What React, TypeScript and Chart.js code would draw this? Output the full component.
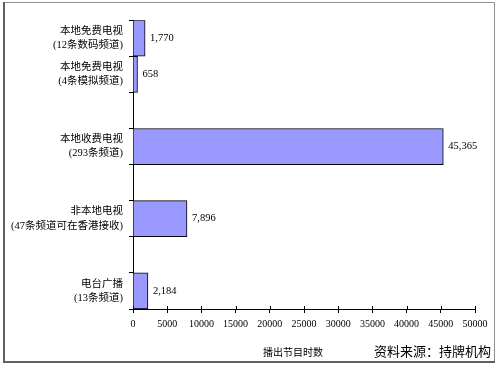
import React, { useEffect, useRef } from "react";
import { Chart, registerables } from "chart.js";

Chart.register(...registerables);

const categories: (string | string[])[] = [
  ["本地免费电视", "(12条数码频道)"],
  ["本地免费电视", "(4条模拟频道)"],
  "",
  ["本地收费电视", "(293条频道)"],
  "",
  ["非本地电视", "(47条频道可在香港接收)"],
  "",
  ["电台广播", "(13条频道)"],
];
const hours: (number | null)[] = [1770, 658, null, 45365, null, 7896, null, 2184];
const xMin = 0;
const xMax = 50000;
const xStep = 5000;
const axisTitle = "播出节目时数";
const sourceNote = "资料来源：持牌机构";

const SERIF = "'Liberation Serif', 'Times New Roman', 'Noto Sans CJK SC'";
const CJK = "'Noto Sans CJK SC', sans-serif";

const decorPlugin = {
  id: "decor",
  beforeDraw(chart: any) {
    const ctx = chart.ctx;
    ctx.save();
    ctx.fillStyle = "#ffffff";
    ctx.fillRect(0, 0, chart.width, chart.height);
    ctx.restore();
  },
  afterDraw(chart: any) {
    const ctx = chart.ctx;
    const xs = chart.scales.x;
    const area = chart.chartArea;
    ctx.save();
    // inner half of x tick marks
    ctx.strokeStyle = "#000";
    ctx.lineWidth = 1;
    xs.ticks.forEach((t: any) => {
      const px = Math.round(xs.getPixelForValue(t.value)) + 0.5;
      ctx.beginPath();
      ctx.moveTo(px, area.bottom - 3);
      ctx.lineTo(px, area.bottom);
      ctx.stroke();
    });
    // value labels
    ctx.fillStyle = "#000";
    ctx.font = `10.5px ${SERIF}`;
    ctx.textBaseline = "middle";
    ctx.textAlign = "left";
    const meta = chart.getDatasetMeta(0);
    meta.data.forEach((el: any, i: number) => {
      const v = hours[i];
      if (v == null) return;
      ctx.fillText(v.toLocaleString("en-US"), el.x + 5, el.y);
    });
    // axis title and source
    ctx.font = `10px ${CJK}`;
    ctx.textAlign = "center";
    ctx.fillText(axisTitle, 293, 352);
    ctx.font = `13px ${CJK}`;
    ctx.textAlign = "left";
    ctx.fillText(sourceNote, 374, 351);
    // frame
    ctx.strokeStyle = "#909090";
    ctx.lineWidth = 1;
    ctx.beginPath();
    ctx.moveTo(3.5, 2.5);
    ctx.lineTo(494.5, 2.5);
    ctx.lineTo(494.5, 362.5);
    ctx.stroke();
    ctx.strokeStyle = "#606060";
    ctx.lineWidth = 2;
    ctx.beginPath();
    ctx.moveTo(4, 2);
    ctx.lineTo(4, 362);
    ctx.lineTo(495, 362);
    ctx.stroke();
    ctx.restore();
  },
};

export default function App() {
  const ref = useRef<HTMLCanvasElement | null>(null);
  useEffect(() => {
    if (!ref.current) return;
    const chart = new Chart(ref.current, {
      type: "bar",
      data: {
        labels: categories,
        datasets: [
          {
            data: hours,
            backgroundColor: "#9999FF",
            borderColor: "#000000",
            borderWidth: 1,
            barPercentage: 1,
            categoryPercentage: 1,
          },
        ],
      },
      options: {
        indexAxis: "y",
        animation: false,
        responsive: false,
        devicePixelRatio: 1,
        layout: { padding: { top: 17, right: 23, left: 0, bottom: 0 } },
        plugins: {
          legend: { display: false },
          tooltip: { enabled: false },
        },
        scales: {
          x: {
            min: xMin,
            max: xMax,
            ticks: {
              stepSize: xStep,
              color: "#000",
              font: { family: SERIF, size: 10 },
              padding: 5,
              maxRotation: 0,
              autoSkip: false,
              callback: (v: any) => String(v),
            },
            grid: {
              drawOnChartArea: false,
              drawTicks: true,
              tickLength: 4,
              color: "#000",
            },
            border: { display: true, color: "#000", width: 1 },
            afterFit(scale: any) {
              scale.height = 57;
            },
          },
          y: {
            ticks: {
              color: "#000",
              font: { family: SERIF, size: 10.5, lineHeight: 1.35 },
              padding: 6,
              autoSkip: false,
            },
            grid: {
              drawOnChartArea: false,
              drawTicks: true,
              tickLength: 4,
              offset: true,
              color: "#000",
            },
            border: { display: true, color: "#000", width: 1 },
            afterFit(scale: any) {
              scale.width = 133;
            },
          },
        },
      },
      plugins: [decorPlugin],
    });
    return () => chart.destroy();
  }, []);
  return (
    <div style={{ position: "absolute", left: 0, top: 0, width: 498, height: 366 }}>
      <canvas ref={ref} width={498} height={366} />
    </div>
  );
}
